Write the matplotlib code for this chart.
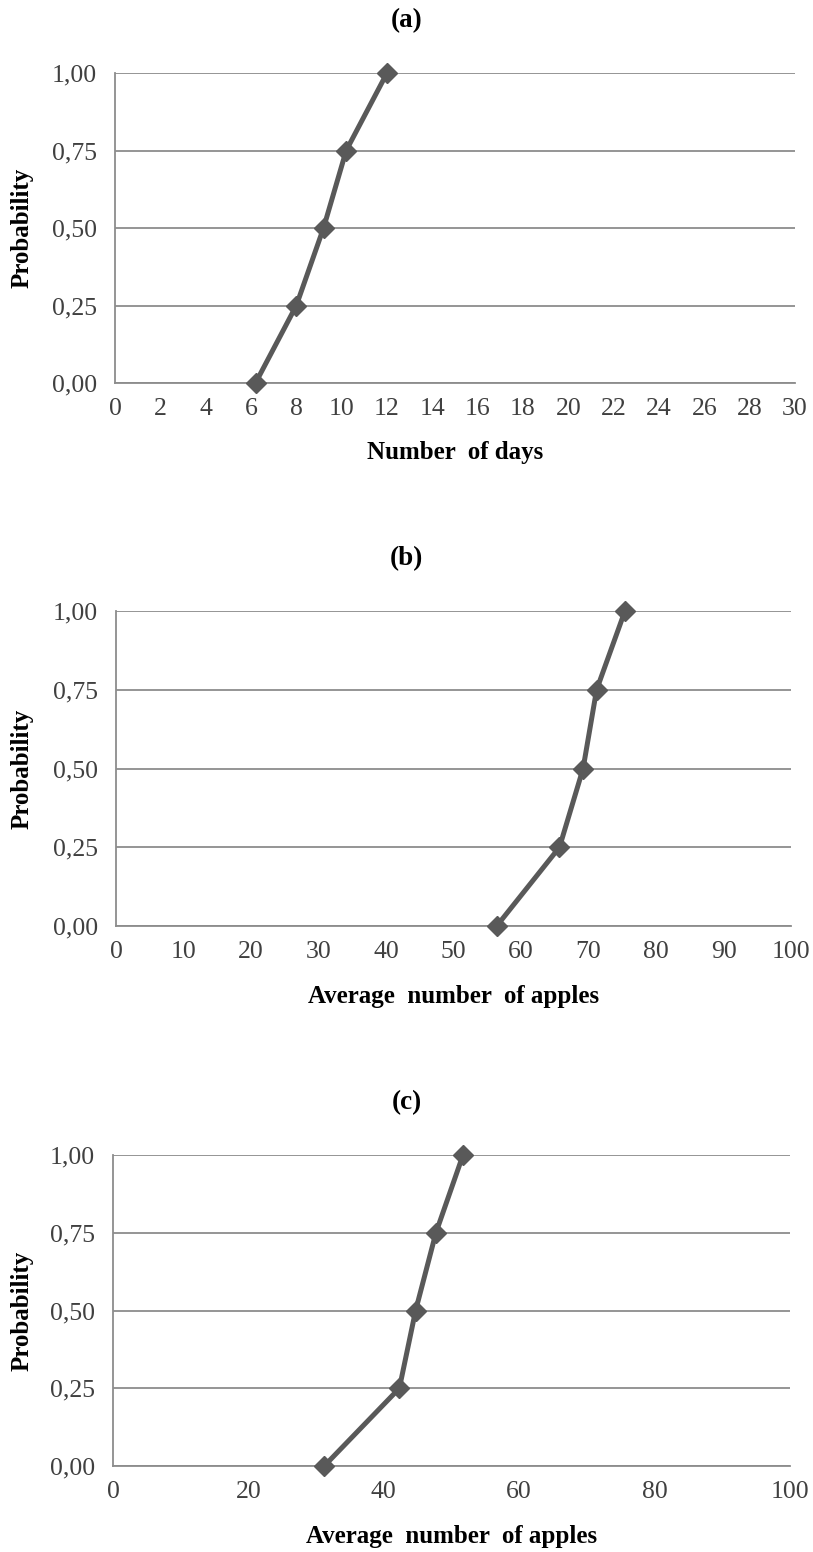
import matplotlib.pyplot as plt
from matplotlib.ticker import FuncFormatter

plt.rcParams['font.family'] = ['Liberation Serif', 'DejaVu Serif']

# cumulative probability levels shared by all three panels
prob = [0.0, 0.25, 0.50, 0.75, 1.0]

# (a) number of days
days = [6.2, 8.0, 9.2, 10.2, 12.0]
# (b) and (c) average number of apples
apples_b = [56.4, 65.7, 69.2, 71.2, 75.4]
apples_c = [31.2, 42.3, 44.7, 47.7, 51.7]

titles = ["(a)", "(b)", "(c)"]
xlabels = ["Number  of days", "Average  number  of apples", "Average  number  of apples"]
xlims = [30, 100, 100]
xsteps = [2, 10, 20]
series = [days, apples_b, apples_c]

W, H = 813, 1552
fig = plt.figure(figsize=(W / 100, H / 100), dpi=100)

# axes boxes in pixels: left, right, y of 1.00, y of 0.00
boxes = [(115, 795, 73, 383), (116, 791, 611, 926), (113, 790, 1155, 1466)]

line_col = "#595959"
grid_col = "#8c8c8c"
tick_col = "#404040"

for i in range(3):
    l, r, top, bot = boxes[i]
    ax = fig.add_axes([l / W, 1 - bot / H, (r - l) / W, (bot - top) / H])
    ax.set_xlim(0, xlims[i])
    ax.set_ylim(0, 1)
    ax.set_xticks(range(0, xlims[i] + 1, xsteps[i]))
    ax.set_yticks(prob)
    ax.yaxis.set_major_formatter(FuncFormatter(lambda v, p: f"{v:.2f}".replace(".", ",")))
    ax.grid(axis="y", color=grid_col, linewidth=1.3)
    ax.set_axisbelow(True)
    for s in ["top", "right"]:
        ax.spines[s].set_visible(False)
    for s in ["left", "bottom"]:
        ax.spines[s].set_color(grid_col)
        ax.spines[s].set_linewidth(1.3)
    ax.tick_params(length=0, labelsize=18.5, colors=tick_col)
    ax.tick_params(axis="y", pad=13)
    ax.tick_params(axis="x", pad=11)
    ax.plot(series[i], prob, color=line_col, linewidth=3.6, marker="D",
            markersize=10, clip_on=False, zorder=3)

    fig.text(0.5, 1 - (top - 52) / H, titles[i], ha="center", va="center",
             fontsize=19.5, fontweight="bold")
    fig.text((l + r) / 2 / W, 1 - (bot + 70) / H, xlabels[i], ha="center", va="center",
             fontsize=18, fontweight="bold")
    fig.text(22 / W, 1 - (top + bot) / 2 / H, "Probability", ha="center", va="center",
             rotation=90, fontsize=18, fontweight="bold")

fig.savefig("out.png", dpi=100)
